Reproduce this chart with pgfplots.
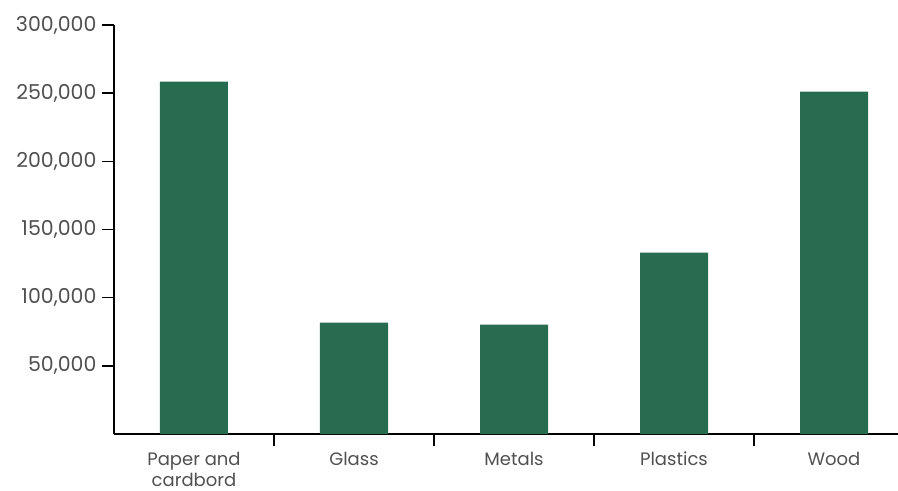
\documentclass[border=0pt]{standalone}
\usepackage{pgfplots}
\pgfplotsset{compat=1.18}
\usepackage{fontspec}
\setmainfont{Poppins}
\definecolor{bargreen}{HTML}{276C50}
\definecolor{labelgrey}{HTML}{505050}

\begin{document}
\begin{tikzpicture}[x=1bp,y=1bp]
\begin{axis}[
  scale only axis,
  width=784bp, height=409bp,
  xmin=-0.5, xmax=4.4,
  ymin=0, ymax=300000,
  axis lines*=left,
  axis line style={black, line width=1.6bp},
  ybar, bar width=68bp,
  xtick={0,1,2,3,4},
  % a phantom ascender gives every first line the same height
  xticklabels={{\vphantom{Pl}Paper and\\cardbord},{\vphantom{Pl}Glass},{\vphantom{Pl}Metals},{\vphantom{Pl}Plastics},{\vphantom{Pl}Wood}},
  x tick label style={align=center, font=\fontsize{18bp}{21bp}\selectfont, text=labelgrey, anchor=north, yshift=-3.5bp, inner ysep=2bp},
  major x tick style={draw=none},
  minor xtick={0.5,1.5,2.5,3.5},
  minor x tick style={black, line width=1.6bp},
  minor tick length=12bp,
  ytick={50000,100000,150000,200000,250000,300000},
  ytick style={black, line width=1.6bp},
  y tick label style={font=\fontsize{20.5bp}{22bp}\selectfont, text=labelgrey, xshift=-2bp},
  major tick length=12bp,
  tick align=outside,
  scaled y ticks=false,
  /pgf/number format/fixed,
  /pgf/number format/precision=0,
  /pgf/number format/assume math mode=true,
  /pgf/number format/1000 sep={,},
  tick pos=left,
  clip=false,
]
\addplot[fill=bargreen, draw=none] coordinates {
  (0,258400) (1,81700) (2,80300) (3,133100) (4,251100)
};
\end{axis}
\pgfresetboundingbox
\path[use as bounding box] (-114bp,-57bp) rectangle (784bp,434bp);
\end{tikzpicture}
\end{document}
